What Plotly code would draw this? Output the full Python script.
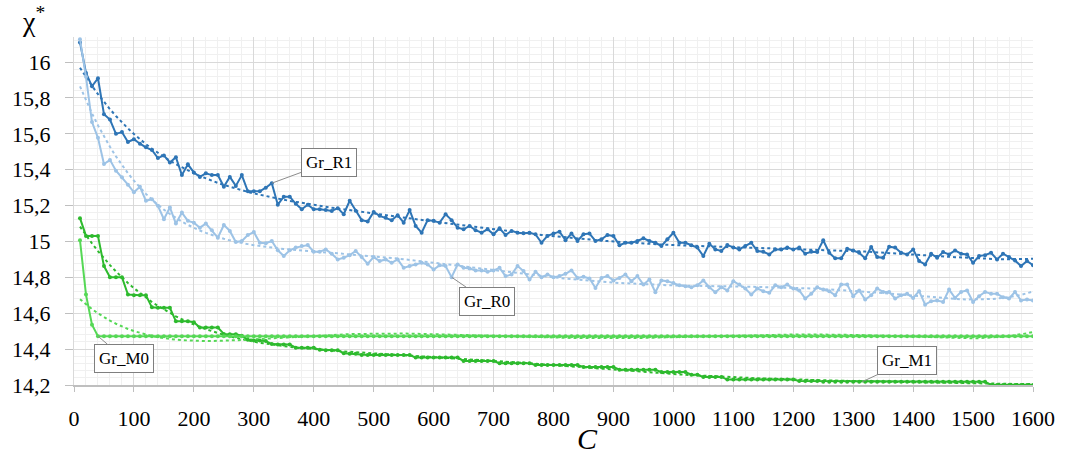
import numpy as np
import plotly.graph_objects as go

C = list(range(10, 1610, 10))

gr_r1 = [16.11, 15.94, 15.865, 15.91, 15.71, 15.68, 15.60, 15.61, 15.555, 15.57,
         15.545, 15.525, 15.51, 15.465, 15.48, 15.44, 15.47, 15.37, 15.43, 15.385,
         15.36, 15.38, 15.37, 15.37, 15.305, 15.36, 15.31, 15.37, 15.28, 15.28,
         15.28, 15.30, 15.325, 15.205, 15.25, 15.25, 15.21, 15.18, 15.205, 15.18,
         15.18, 15.175, 15.17, 15.186, 15.152, 15.227, 15.171, 15.119, 15.111, 15.165,
         15.143, 15.133, 15.119, 15.147, 15.105, 15.175, 15.087, 15.049, 15.119, 15.115,
         15.105, 15.152, 15.119, 15.077, 15.068, 15.087, 15.063, 15.049, 15.068, 15.04,
         15.074, 15.036, 15.059, 15.049, 15.046, 15.049, 15.04, 14.993, 15.031, 15.044,
         15.055, 15.007, 15.044, 15.003, 15.040, 15.044, 15.003, 15.012, 15.036, 15.031,
         14.979, 14.993, 14.993, 15.003, 15.018, 15.003, 14.993, 14.975, 15.012, 15.049,
         14.993, 14.993, 14.979, 14.966, 14.919, 14.988, 14.956, 14.947, 14.98, 14.966,
         14.956, 14.975, 14.993, 14.947, 14.943, 14.928, 14.956, 14.956, 14.966, 14.956,
         14.966, 14.932, 14.943, 14.941, 15.007, 14.937, 14.906, 14.906, 14.96, 14.95,
         14.937, 14.906, 14.969, 14.913, 14.909, 14.971, 14.966, 14.937, 14.928, 14.956,
         14.891, 14.872, 14.932, 14.909, 14.941, 14.928, 14.95, 14.932, 14.928, 14.881,
         14.919, 14.924, 14.937, 14.9, 14.932, 14.913, 14.894, 14.863, 14.891, 14.868]

gr_r0 = [16.127, 15.918, 15.666, 15.578, 15.432, 15.455, 15.395, 15.358, 15.317, 15.274,
         15.305, 15.227, 15.236, 15.199, 15.124, 15.19, 15.1, 15.161, 15.115, 15.105,
         15.077, 15.1, 15.063, 15.021, 15.092, 15.059, 14.997, 15.003, 15.036, 15.053,
         14.993, 14.99, 15.003, 14.951, 14.919, 14.951, 14.966, 14.975, 14.98, 14.943,
         14.943, 14.956, 14.932, 14.9, 14.909, 14.924, 14.947, 14.913, 14.876, 14.913,
         14.891, 14.9, 14.881, 14.9, 14.853, 14.863, 14.872, 14.881, 14.872, 14.844,
         14.867, 14.863, 14.801, 14.872, 14.853, 14.85, 14.839, 14.839, 14.831, 14.839,
         14.853, 14.807, 14.816, 14.863, 14.835, 14.788, 14.831, 14.801, 14.816, 14.801,
         14.807, 14.82, 14.839, 14.797, 14.803, 14.794, 14.741, 14.797, 14.807, 14.783,
         14.797, 14.816, 14.779, 14.807, 14.76, 14.788, 14.717, 14.783, 14.779, 14.769,
         14.756, 14.751, 14.745, 14.756, 14.783, 14.745, 14.717, 14.745, 14.727, 14.779,
         14.76, 14.738, 14.704, 14.738, 14.723, 14.714, 14.756, 14.745, 14.76, 14.738,
         14.727, 14.682, 14.708, 14.745, 14.732, 14.723, 14.7, 14.76, 14.76, 14.695,
         14.727, 14.676, 14.7, 14.738, 14.719, 14.719, 14.682, 14.7, 14.708, 14.685,
         14.723, 14.648, 14.667, 14.671, 14.663, 14.732, 14.685, 14.719, 14.727, 14.663,
         14.695, 14.719, 14.708, 14.708, 14.689, 14.682, 14.719, 14.671, 14.676, 14.671]

gr_m1 = [15.13, 15.031, 15.031, 15.031, 14.863, 14.801, 14.801, 14.801, 14.704, 14.70,
         14.70, 14.70, 14.633, 14.63, 14.63, 14.63, 14.555, 14.555, 14.555, 14.55,
         14.52, 14.52, 14.52, 14.52, 14.485, 14.483, 14.483, 14.475, 14.452, 14.448,
         14.448, 14.445, 14.428, 14.426, 14.426, 14.426, 14.408, 14.408, 14.408, 14.408,
         14.396, 14.394, 14.394, 14.394, 14.377, 14.374, 14.374, 14.367, 14.367, 14.367,
         14.367, 14.367, 14.367, 14.367, 14.367, 14.367, 14.353, 14.353, 14.353, 14.353,
         14.353, 14.353, 14.353, 14.353, 14.334, 14.334, 14.334, 14.334, 14.334, 14.334,
         14.321, 14.321, 14.321, 14.321, 14.321, 14.321, 14.312, 14.312, 14.312, 14.312,
         14.312, 14.312, 14.312, 14.312, 14.301, 14.301, 14.301, 14.301, 14.301, 14.301,
         14.285, 14.285, 14.285, 14.285, 14.285, 14.285, 14.285, 14.272, 14.272, 14.272,
         14.272, 14.272, 14.257, 14.257, 14.245, 14.245, 14.245, 14.245, 14.23, 14.23,
         14.23, 14.23, 14.23, 14.23, 14.23, 14.23, 14.23, 14.23, 14.23, 14.23,
         14.222, 14.222, 14.222, 14.222, 14.218, 14.218, 14.218, 14.218, 14.218, 14.218,
         14.218, 14.218, 14.218, 14.218, 14.218, 14.218, 14.218, 14.218, 14.218, 14.218,
         14.218, 14.218, 14.218, 14.218, 14.218, 14.218, 14.218, 14.218, 14.218, 14.218,
         14.218, 14.218, 14.2, 14.2, 14.2, 14.2, 14.2, 14.2, 14.2, 14.2]

gr_m0 = [15.007, 14.704, 14.536] + [14.472] * 157

x_ticks = list(range(0, 1700, 100))
x_labels = [str(v) for v in x_ticks]
y_ticks = [14.2, 14.4, 14.6, 14.8, 15.0, 15.2, 15.4, 15.6, 15.8, 16.0]
y_labels = ["14,2", "14,4", "14,6", "14,8", "15", "15,2", "15,4", "15,6", "15,8", "16"]

COL_R1 = "#2E75B6"
COL_R0 = "#9DC3E6"
COL_M1 = "#2DBA2D"
COL_M0 = "#55D855"

xs = np.array(C, dtype=float)


def poly_trend(y, deg=6):
    t = xs / 1600.0
    p = np.polyfit(t, np.array(y), deg)
    return np.polyval(p, t)


fig = go.Figure()
series = [
    ("Gr_R1", gr_r1, COL_R1),
    ("Gr_R0", gr_r0, COL_R0),
    ("Gr_M1", gr_m1, COL_M1),
    ("Gr_M0", gr_m0, COL_M0),
]
for name, ys, col in series:
    fig.add_trace(go.Scatter(x=C, y=poly_trend(ys), mode="lines",
                             line=dict(color=col, width=2, dash="dot"),
                             hoverinfo="skip", showlegend=False))
for name, ys, col in series:
    fig.add_trace(go.Scatter(x=C, y=ys, mode="lines+markers", name=name,
                             line=dict(color=col, width=2),
                             marker=dict(color=col, size=4),
                             showlegend=False))

serif = "Liberation Serif"

fig.update_layout(
    width=1067, height=455,
    margin=dict(l=71, r=32, t=37, b=70),
    plot_bgcolor="white", paper_bgcolor="white",
    showlegend=False,
    font=dict(family=serif, color="black"),
)
fig.update_xaxes(
    range=[0, 1600], tickmode="array", tickvals=x_ticks, ticktext=x_labels,
    showgrid=True, gridcolor="#D9D9D9", gridwidth=1,
    minor=dict(dtick=20, tick0=0, showgrid=True, gridcolor="#F0F0F0", gridwidth=1),
    ticks="outside", ticklen=5, tickcolor="#BFBFBF",
    showline=True, linecolor="#BFBFBF", linewidth=1.5, zeroline=False,
    tickfont=dict(family=serif, size=22, color="black"),
    ticklabelstandoff=8,
)
fig.update_yaxes(
    range=[14.2, 16.14], tickmode="array", tickvals=y_ticks, ticktext=y_labels,
    showgrid=True, gridcolor="#D9D9D9", gridwidth=1,
    minor=dict(dtick=0.04, tick0=14.2, showgrid=True, gridcolor="#F0F0F0", gridwidth=1),
    ticks="outside", ticklen=8, tickcolor="#BFBFBF",
    showline=True, linecolor="#D9D9D9", linewidth=1, zeroline=False,
    tickfont=dict(family=serif, size=22, color="black"),
    ticklabelstandoff=10,
)

box = dict(font=dict(family=serif, size=17, color="black"), bgcolor="white",
           bordercolor="#7F7F7F", borderwidth=1, borderpad=4,
           showarrow=True, arrowhead=0, arrowcolor="#8C8C8C", arrowwidth=1)
fig.add_annotation(x=330, y=15.325, text="Gr_R1", ax=57, ay=-21, **box)
fig.add_annotation(x=630, y=14.801, text="Gr_R0", ax=35, ay=24, **box)
fig.add_annotation(x=40, y=14.472, text="Gr_M0", ax=26, ay=22, **box)
fig.add_annotation(x=1315, y=14.218, text="Gr_M1", ax=45, ay=-21, **box)

fig.add_annotation(xref="paper", yref="paper", x=-0.056, y=1.05, xanchor="left",
                   yanchor="middle", showarrow=False,
                   text="χ<sup>*</sup>", font=dict(family=serif, size=28, color="black"))
fig.add_annotation(xref="paper", yref="paper", x=0.535, y=-0.155, xanchor="center",
                   yanchor="middle", showarrow=False,
                   text="<i>C</i>", font=dict(family=serif, size=30, color="black"))

fig.write_html("out.html", config={"displayModeBar": False},
               post_script="document.body.style.margin='0px';")
